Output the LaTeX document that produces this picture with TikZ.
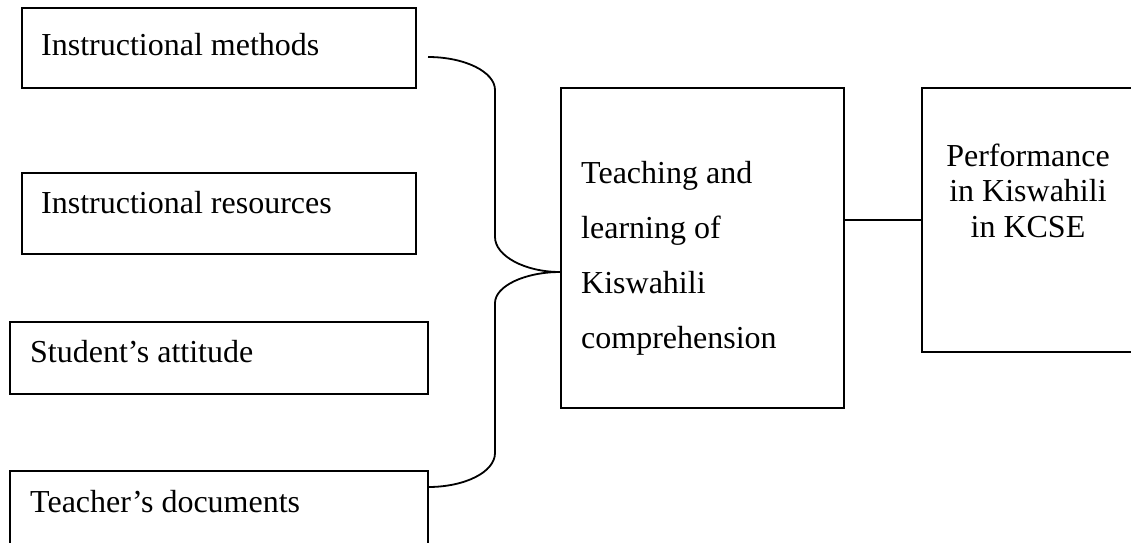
\documentclass[tikz,border=0pt]{standalone}
\usepackage{fontspec}
\setmainfont{Liberation Serif}
\begin{document}
\begin{tikzpicture}[x=1pt,y=-1pt,
  box/.style={draw=black,line width=1.8pt,rectangle,inner sep=0pt},
  lbl/.style={inner sep=0pt,font=\fontsize{32}{36}\selectfont},
  link/.style={draw=black,line width=1.8pt}]
\useasboundingbox (0,0) rectangle (1131,542);
\clip (0,0) rectangle (1131,542);
% left boxes
\node[box,minimum width=394pt,minimum height=80pt] (m1) at (219,48) {};
\node[box,minimum width=394pt,minimum height=81pt] (m2) at (219,213.5) {};
\node[box,minimum width=418pt,minimum height=72pt] (m3) at (219,358) {};
\node[box,minimum width=418pt,minimum height=90pt] (m4) at (219,516) {};
% centre and right boxes
\node[box,minimum width=283pt,minimum height=320pt] (c) at (702.5,248) {};
\node[box,minimum width=212pt,minimum height=264pt] (r) at (1028,220) {};
% texts
\node[lbl,anchor=base west] (t1) at (41,55) {Instructional methods};
\node[lbl,anchor=base west] (t2) at (41,213) {Instructional resources};
\node[lbl,anchor=base west] (t3) at (30,362) {Student’s attitude};
\node[lbl,anchor=base west] (t4) at (30,512) {Teacher’s documents};
\node[lbl,anchor=base west,align=left,font=\fontsize{32}{55}\selectfont] (tc) at (581,348)
  {Teaching and\\learning of\\Kiswahili\\comprehension};
\node[lbl,anchor=base,align=center,font=\fontsize{32}{35.5}\selectfont] (tr) at (1028,237)
  {Performance\\in Kiswahili\\in KCSE};
% brace connector
\coordinate (b1) at (428,57);
\coordinate (b2) at (428,487);
\coordinate (tip) at (c.west |- 0,272);
\draw[link] (b1) .. controls (465,57) and (495,72) .. (495,90) -- (495,237)
  .. controls (495,256) and (525,272) .. (tip)
  .. controls (525,272) and (495,286) .. (495,303) -- (495,453)
  .. controls (495,472) and (465,487) .. (b2);
% centre to right
\draw[link] (r.west) -- (r.west -| c.east);
\end{tikzpicture}
\end{document}
